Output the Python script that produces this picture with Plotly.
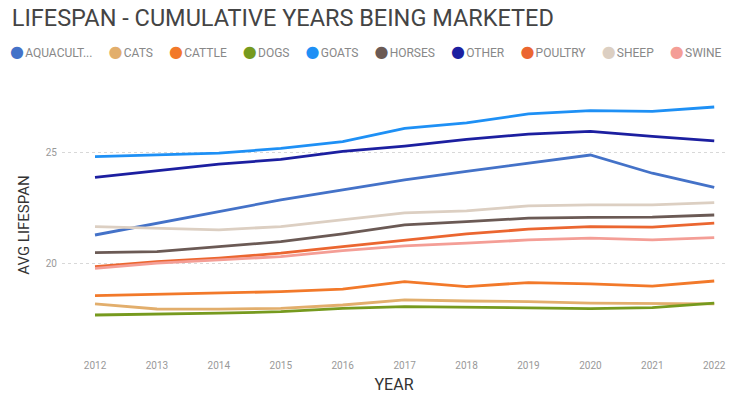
import plotly.graph_objects as go

years = list(range(2012, 2023))

series_names = ["AQUACULT...", "CATS", "CATTLE", "DOGS", "GOATS", "HORSES", "OTHER", "POULTRY", "SHEEP", "SWINE"]

aquaculture = [21.3, 21.83, 22.36, 22.88, 23.33, 23.78, 24.16, 24.54, 24.9, 24.08, 23.44]
cats = [18.2, 17.97, 17.96, 18.0, 18.15, 18.38, 18.33, 18.3, 18.23, 18.2, 18.2]
cattle = [18.57, 18.63, 18.68, 18.75, 18.86, 19.2, 18.98, 19.16, 19.1, 19.0, 19.23]
dogs = [17.7, 17.73, 17.78, 17.85, 18.0, 18.08, 18.05, 17.99, 17.99, 18.03, 18.23]
goats = [24.83, 24.9, 24.98, 25.2, 25.5, 26.1, 26.35, 26.75, 26.9, 26.86, 27.06]
horses = [20.51, 20.55, 20.78, 21.0, 21.35, 21.76, 21.9, 22.06, 22.09, 22.1, 22.2]
other = [23.89, 24.2, 24.49, 24.7, 25.06, 25.3, 25.6, 25.84, 25.96, 25.74, 25.54]
poultry = [19.88, 20.1, 20.26, 20.48, 20.78, 21.08, 21.35, 21.56, 21.68, 21.65, 21.83]
sheep = [21.68, 21.6, 21.53, 21.68, 21.98, 22.3, 22.39, 22.61, 22.66, 22.66, 22.76]
swine = [19.8, 20.03, 20.18, 20.33, 20.6, 20.81, 20.93, 21.08, 21.16, 21.08, 21.18]

values = [aquaculture, cats, cattle, dogs, goats, horses, other, poultry, sheep, swine]
colors = ["#4472C8", "#E2AE6C", "#F2792A", "#769A1E", "#1E90F5", "#6B5A55",
          "#1C1FA0", "#EB6630", "#DCCFC2", "#F49E96"]

fig = go.Figure()
for name, vals, col in zip(series_names, values, colors):
    fig.add_trace(go.Scatter(x=years, y=vals, mode="lines", name=name,
                             line=dict(color=col, width=2.8), showlegend=False))

legend_html = "&nbsp;&nbsp;&nbsp;&nbsp;&nbsp;&#8202;".join(
    f"<span style='color:{c};font-size:16px'>●</span>&#8202;{n}"
    for n, c in zip(series_names, colors)
)

fig.update_layout(
    width=735, height=406,
    margin=dict(l=62, r=9, t=95, b=51),
    paper_bgcolor="white", plot_bgcolor="white",
    font=dict(family="Roboto, DejaVu Sans", color="#777"),
    showlegend=False,
    title=dict(text="LIFESPAN - CUMULATIVE YEARS BEING MARKETED",
               x=0.016, xanchor="left", y=1 - 18 / 406, yanchor="middle",
               font=dict(size=23.5, color="#444", family="Roboto, DejaVu Sans")),
    annotations=[dict(text=legend_html, xref="paper", yref="paper",
                      x=(8 - 62) / 664, xanchor="left", y=1 + (95 - 52) / 260, yanchor="middle",
                      showarrow=False, align="left",
                      font=dict(size=12, color="#888", family="Roboto, DejaVu Sans"))],
    xaxis=dict(range=[2011.467, 2022.19], tickmode="array", tickvals=years,
               ticktext=[str(y) for y in years], showgrid=False, zeroline=False,
               showline=False, tickfont=dict(size=10, color="#999"),
               ticklabelstandoff=3,
               title=dict(text="YEAR", font=dict(size=16, color="#333"), standoff=8)),
    yaxis=dict(range=[15.9, 27.6], tickvals=[20, 25], showgrid=True,
               gridcolor="#D8D8D8", griddash="dot", gridwidth=1, zeroline=False,
               showline=False, tickfont=dict(size=10, color="#999"),
               ticklabelstandoff=4,
               title=dict(text="AVG LIFESPAN", font=dict(size=15, color="#333"), standoff=12)),
)

fig.write_html("out.html", config={"displayModeBar": False},
               post_script="document.body.style.margin='0';")
